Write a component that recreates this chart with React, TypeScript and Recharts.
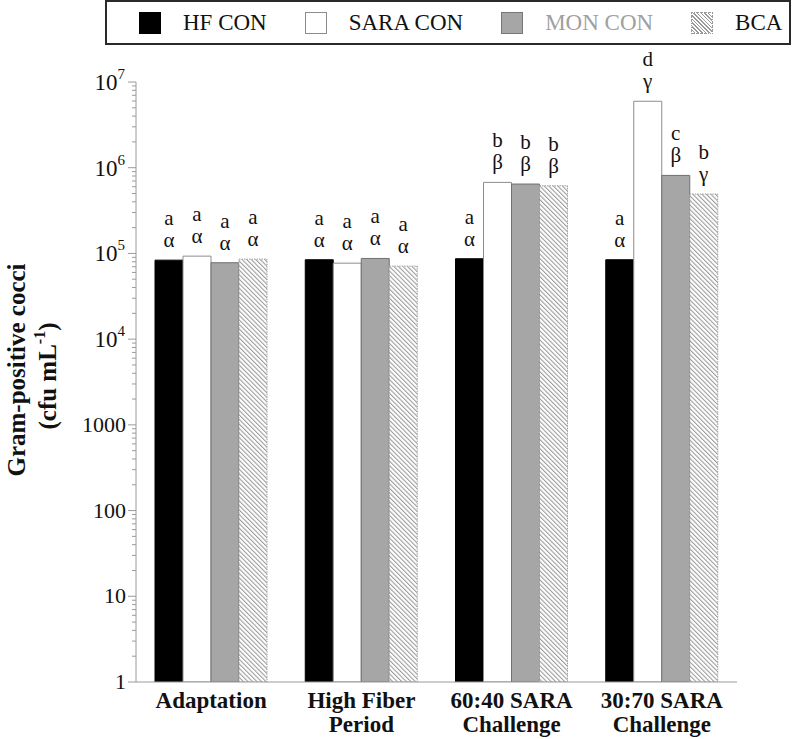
import React from "react";
import { BarChart, Bar, XAxis, YAxis, Label, LabelList } from "recharts";

const categories = ["Adaptation", "High Fiber\nPeriod", "60:40 SARA\nChallenge", "30:70 SARA\nChallenge"];
const seriesNames = ["HF CON", "SARA CON", "MON CON", "BCA"];

// cfu / mL
const hfCon = [83500, 84400, 86700, 84400];
const saraCon = [93000, 77000, 674000, 5960000];
const monCon = [77900, 87400, 645000, 813000];
const bcaVals = [85800, 71100, 616000, 493000];

// significance letters (latin row over greek row)
const hfLetters = ["a", "a", "a", "a"];
const hfGreek = ["α", "α", "α", "α"];
const saraLetters = ["a", "a", "b", "d"];
const saraGreek = ["α", "α", "β", "γ"];
const monLetters = ["a", "a", "b", "c"];
const monGreek = ["α", "α", "β", "β"];
const bcaLetters = ["a", "a", "b", "b"];
const bcaGreek = ["α", "α", "β", "γ"];

const majorTicks = [1, 10, 100, 1000, 1e4, 1e5, 1e6, 1e7];
const minorSteps = [2, 3, 4, 5, 6, 7, 8, 9];
const allTicks = majorTicks.flatMap((m, i) =>
  i < majorTicks.length - 1 ? [m, ...minorSteps.map((s) => m * s)] : [m]
);

const data = categories.map((c, i) => ({
  category: c,
  hf: hfCon[i],
  sara: saraCon[i],
  mon: monCon[i],
  bca: bcaVals[i],
}));

const FONT = '"Liberation Serif", "Times New Roman", serif';
const AXIS = "#9a9a9a";
const serif = { fontFamily: FONT };

function YTick(props: any) {
  const { x, y, payload } = props;
  const v = payload.value as number;
  const exp = Math.round(Math.log10(v));
  const major = Math.abs(Math.log10(v) - exp) < 1e-6;
  return (
    <g>
      <line x1={x - (major ? 8 : 4)} x2={x} y1={y} y2={y} stroke={AXIS} />
      {major ? (
        exp < 4 ? (
          <text x={x - 10} y={y + 7} textAnchor="end" style={{ ...serif, fontSize: 22 }} fill="#111">
            {String(v)}
          </text>
        ) : (
          <text x={x - 11} y={y + 8} textAnchor="end" style={{ ...serif, fontSize: 23 }} fill="#111">
            10
            <tspan dy={-11} style={{ fontSize: 15 }}>
              {exp}
            </tspan>
          </text>
        )
      ) : null}
    </g>
  );
}

function XTick(props: any) {
  const { x, y, payload } = props;
  const lines = String(payload.value).split("\n");
  return (
    <g>
      {lines.map((l, i) => (
        <text
          key={i}
          x={x}
          y={y + 26 + i * 24}
          textAnchor="middle"
          style={{ ...serif, fontWeight: "bold", fontSize: 23 }}
          fill="#111"
        >
          {l}
        </text>
      ))}
    </g>
  );
}

function YTitle(props: any) {
  const vb = props.viewBox || { y: 82, height: 600 };
  const cy = vb.y + vb.height / 2 - 12;
  return (
    <g fill="#111">
      <text
        transform={`translate(25, ${cy}) rotate(-90)`}
        textAnchor="middle"
        style={{ ...serif, fontWeight: "bold", fontSize: 25 }}
      >
        Gram-positive cocci
      </text>
      <text
        transform={`translate(56, ${cy + 6}) rotate(-90)`}
        textAnchor="middle"
        style={{ ...serif, fontWeight: "bold", fontSize: 25 }}
      >
        (cfu mL
        <tspan dy={-11} style={{ fontSize: 16 }}>
          -1
        </tspan>
        <tspan dy={11}>)</tspan>
      </text>
    </g>
  );
}

const letterLabel = (top: string[], bottom: string[]) => (props: any) => {
  const { x, y, width, index } = props;
  const cx = Number(x) + Number(width) / 2;
  const ty = Number(y);
  const st = { ...serif, fontSize: 21 };
  return (
    <g fill="#111">
      <text x={cx} y={ty - 35} textAnchor="middle" style={st}>
        {top[index]}
      </text>
      <text x={cx} y={ty - 13} textAnchor="middle" style={st}>
        {bottom[index]}
      </text>
    </g>
  );
};

const swatches = [
  { background: "#000", border: "1px solid #000" },
  { background: "#fff", border: "1px solid #8c8c8c" },
  { background: "#a6a6a6", border: "1px solid #777" },
  {
    background: "repeating-linear-gradient(45deg, #fff 0 1.6px, #999 1.6px 2.6px)",
    border: "1px dotted #999",
  },
];
const legendColors = ["#111", "#111", "#a0a0a0", "#111"];

function LegendBox() {
  return (
    <div
      style={{
        position: "absolute",
        left: 105,
        top: 0,
        width: 686,
        height: 45,
        boxSizing: "border-box",
        border: "2px solid #2a2a2a",
        background: "#fff",
        display: "flex",
        alignItems: "center",
        paddingLeft: 32,
        fontFamily: FONT,
        fontSize: 23,
      }}
    >
      {seriesNames.map((n, i) => (
        <div key={n} style={{ display: "flex", alignItems: "center", marginRight: 38 }}>
          <div style={{ width: 22, height: 22, boxSizing: "border-box", marginRight: 22, ...swatches[i] }} />
          <span style={{ color: legendColors[i], whiteSpace: "nowrap" }}>{n}</span>
        </div>
      ))}
    </div>
  );
}

export default function App() {
  return (
    <div style={{ position: "absolute", left: 0, top: 0, width: 792, height: 739, background: "#fff" }}>
      <BarChart
        width={792}
        height={739}
        data={data}
        margin={{ top: 82, right: 55, bottom: 0, left: 76 }}
        barSize={28}
        barGap={0}
      >
        <defs>
          <pattern
            id="hatch"
            patternUnits="userSpaceOnUse"
            width={3.2}
            height={3.2}
            patternTransform="rotate(-45)"
          >
            <rect width={3.2} height={3.2} fill="#fff" />
            <line x1={0.5} y1={0} x2={0.5} y2={3.2} stroke="#9a9a9a" strokeWidth={1.1} />
          </pattern>
        </defs>
        <XAxis
          dataKey="category"
          height={57}
          interval={0}
          tickLine={false}
          tickSize={0}
          tickMargin={0}
          axisLine={{ stroke: AXIS }}
          tick={<XTick />}
        />
        <YAxis
          type="number"
          scale="log"
          domain={[1, 1e7]}
          allowDataOverflow
          ticks={allTicks}
          interval={0}
          width={60}
          tickLine={false}
          tickSize={0}
          tickMargin={0}
          axisLine={{ stroke: AXIS }}
          tick={<YTick />}
        >
          <Label content={(p: any) => <YTitle {...p} />} />
        </YAxis>
        <Bar dataKey="hf" name={seriesNames[0]} fill="#000" stroke="#000" isAnimationActive={false}>
          <LabelList dataKey="hf" content={letterLabel(hfLetters, hfGreek)} />
        </Bar>
        <Bar dataKey="sara" name={seriesNames[1]} fill="#fff" stroke="#8c8c8c" isAnimationActive={false}>
          <LabelList dataKey="sara" content={letterLabel(saraLetters, saraGreek)} />
        </Bar>
        <Bar dataKey="mon" name={seriesNames[2]} fill="#a6a6a6" stroke="#707070" isAnimationActive={false}>
          <LabelList dataKey="mon" content={letterLabel(monLetters, monGreek)} />
        </Bar>
        <Bar
          dataKey="bca"
          name={seriesNames[3]}
          fill="url(#hatch)"
          stroke="#a0a0a0"
          strokeDasharray="1.5 1"
          isAnimationActive={false}
        >
          <LabelList dataKey="bca" content={letterLabel(bcaLetters, bcaGreek)} />
        </Bar>
      </BarChart>
      <LegendBox />
    </div>
  );
}
